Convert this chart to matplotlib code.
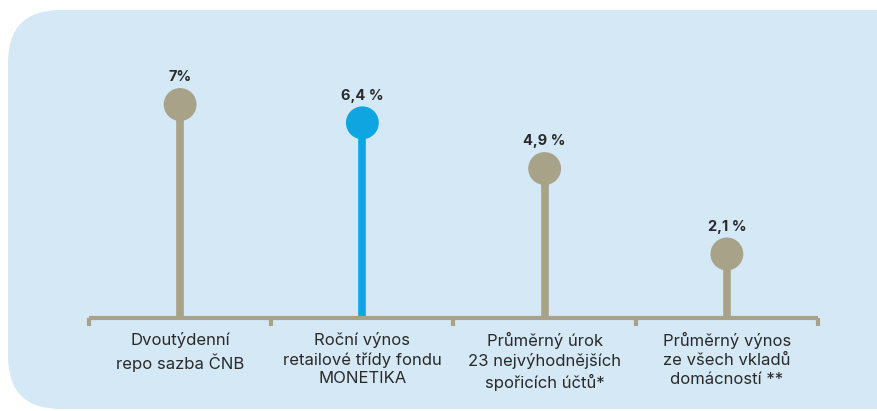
import matplotlib
matplotlib.use("Agg")
import matplotlib.pyplot as plt
from matplotlib.patches import FancyBboxPatch

categories = [
    "Dvoutýdenní\nrepo sazba ČNB",
    "Roční výnos\nretailové třídy fondu\nMONETIKA",
    "Průměrný úrok\n23 nejvýhodnějších\nspořicích účtů*",
    "Průměrný výnos\nze všech vkladů\ndomácností **",
]
values = [7.0, 6.4, 4.9, 2.1]
value_labels = ["7%", "6,4 %", "4,9 %", "2,1 %"]
highlight = [False, True, False, False]

TAN = "#A7A288"
BLUE = "#0EA5E1"
BG = "#D4E8F6"
TXT = "#2A2A2A"

plt.rcParams["font.family"] = ["Inter", "DejaVu Sans"]

W, H = 878, 411
fig = plt.figure(figsize=(W / 100, H / 100), dpi=100)
fig.patch.set_facecolor("white")

# light blue rounded panel behind everything (top at y=10 px, left at x=8 px)
panel = FancyBboxPatch((8 / W, 2 / H), 920 / W, 399 / H,
                       boxstyle="round,pad=0,rounding_size=0.06",
                       transform=fig.transFigure, facecolor=BG,
                       edgecolor="none", zorder=-5, mutation_aspect=W / H)
fig.patches.append(panel)

# axes: x from 89 to 818 px, y=0 at 318 px
ax = fig.add_axes([89 / W, (H - 318) / H, (818 - 89) / W, 275 / H])
ax.set_zorder(2)
ax.set_facecolor("none")
ax.set_xlim(-0.5, 3.5)
ax.set_ylim(0, 275 / 30.5)

x = list(range(len(values)))
colors = [BLUE if h else TAN for h in highlight]

ax.vlines(x, 0, values, colors=colors, linewidth=5.5, zorder=2)
ax.scatter(x, values, s=560, c=colors, zorder=3, linewidths=0)

for xi, v, lab in zip(x, values, value_labels):
    ax.annotate(lab, (xi, v), xytext=(0, 19.5), textcoords="offset points",
                ha="center", va="center", fontsize=10.5, fontweight="bold",
                color=TXT)

for s in ["top", "right", "left"]:
    ax.spines[s].set_visible(False)
ax.spines["bottom"].set_color(TAN)
ax.spines["bottom"].set_linewidth(3)
ax.spines["bottom"].set_capstyle("butt")

ax.set_yticks([])
ax.set_xticks(x)
ax.set_xticklabels(categories, fontsize=12, color=TXT, linespacing=1.33)
ax.set_xticks([-0.5, 0.5, 1.5, 2.5, 3.5], minor=True)
ax.tick_params(axis="x", which="major", length=0, pad=10)
ax.tick_params(axis="x", which="minor", length=6, width=3, color=TAN,
               direction="out")

fig.savefig("out.png", dpi=100, facecolor="white")
